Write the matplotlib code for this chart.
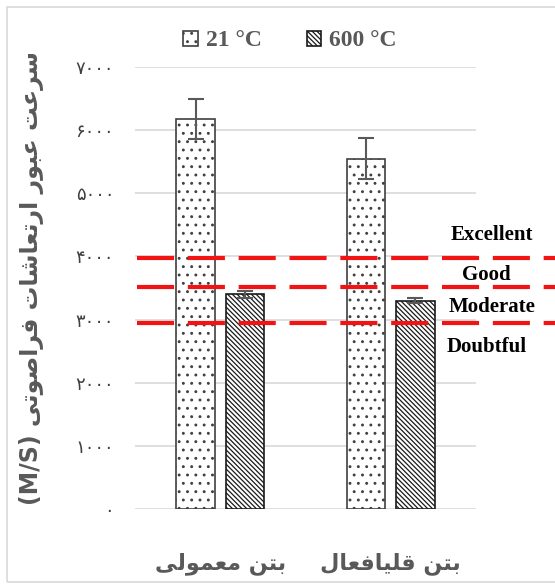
import numpy as np
import matplotlib.pyplot as plt
from matplotlib.patches import Rectangle
import matplotlib.transforms as mtransforms

# presentation-form base code and whether the letter joins on both sides
FORMS = {
    'ا': (0xFE8D, False), 'ب': (0xFE8F, True), 'ت': (0xFE95, True),
    'ر': (0xFEAD, False), 'س': (0xFEB1, True), 'ش': (0xFEB5, True),
    'ص': (0xFEB9, True), 'ع': (0xFEC9, True), 'ف': (0xFED1, True),
    'ق': (0xFED5, True), 'ل': (0xFEDD, True), 'م': (0xFEE1, True),
    'ن': (0xFEE5, True), 'و': (0xFEED, False), 'ی': (0xFBFC, True),
}


def shape(s):
    # pick contextual forms, then reverse into visual order
    out = []
    for i, ch in enumerate(s):
        if ch not in FORMS:
            out.append(ch)
            continue
        base, dual = FORMS[ch]
        prev = s[i-1] if i > 0 else ''
        nxt = s[i+1] if i + 1 < len(s) else ''
        jp = prev in FORMS and FORMS[prev][1]
        jn = dual and nxt in FORMS
        if jp and jn:
            out.append(chr(base + 3))
        elif jp:
            out.append(chr(base + 1))
        elif jn:
            out.append(chr(base + 2))
        else:
            out.append(chr(base))
    return ''.join(reversed(out))


def fa_digits(n):
    return ''.join(chr(0x06F0 + int(d)) for d in str(n))


categories = ['بتن معمولی', 'بتن قلیافعال']
series_names = ['21 °C', '600 °C']
v21 = [6180, 5550]
v600 = [3400, 3300]
err21 = [320, 330]
err600 = [60, 45]
thresholds = [3970, 3520, 2950]
quality = ['Excellent', 'Good', 'Moderate', 'Doubtful']
yticks = [0, 1000, 2000, 3000, 4000, 5000, 6000, 7000]
ylabel = 'سرعت عبور ارتعاشات فراصوتی'

gray = '#595959'
plt.rcParams['hatch.linewidth'] = 0.9

fig = plt.figure(figsize=(5.55, 5.84), dpi=100)
fig.patches.append(Rectangle((7/555, 2/584), 1.0, 575/584, transform=fig.transFigure,
                             fill=False, edgecolor='#d9d9d9', linewidth=1.2))
ax = fig.add_axes([135/555, 1-509/584, 341/555, 442/584])

x = np.arange(len(categories))
w = 0.225
off = 0.145
b1 = ax.bar(x - off, v21, w, color='white', edgecolor='#404040', linewidth=1.2,
            hatch='..', label=series_names[0], zorder=2)
b2 = ax.bar(x + off, v600, w, color='white', edgecolor='#1a1a1a', linewidth=1.2,
            hatch='\\\\\\\\\\\\\\', label=series_names[1], zorder=2)
ax.errorbar(x - off, v21, yerr=err21, fmt='none', ecolor=gray, elinewidth=1.5,
            capsize=6, capthick=1.5, zorder=3)
ax.errorbar(x + off, v600, yerr=err600, fmt='none', ecolor=gray, elinewidth=1.5,
            capsize=6, capthick=1.5, zorder=3)

# quality bands, running past the plot to the right edge
trans = mtransforms.blended_transform_factory(ax.transAxes, ax.transData)
for t in thresholds:
    ax.plot([0.005, 1.25], [t, t], color='#f21414', linewidth=3, transform=trans,
            dashes=(8.9, 3.3), clip_on=False, zorder=4)

qpos = [(492, 235), (486, 275), (492, 307), (487, 347)]
for q, (px, py) in zip(quality, qpos):
    fig.text(px/555, 1-py/584, q, ha='center', va='center', fontsize=15,
             fontweight='bold', family='Liberation Serif', color='black')

ax.set_xlim(-0.5, 1.5)
ax.set_ylim(0, 7000)
ax.set_yticks(yticks)
ax.set_yticklabels([fa_digits(v) for v in yticks], color='#404040', fontsize=13,
                   family='DejaVu Sans')
ax.yaxis.grid(True, color='#d9d9d9', linewidth=1.2, zorder=0)
ax.set_axisbelow(True)
ax.tick_params(axis='y', length=0, pad=15)
ax.tick_params(axis='x', length=0, pad=31)
ax.set_xticks(x)
ax.set_xticklabels([shape(c) for c in categories], fontsize=16, color=gray,
                   fontweight='bold', family='DejaVu Sans')
for s in ax.spines.values():
    s.set_visible(False)

fig.text(32/555, 1-278/584, '(M/S) ' + shape(ylabel), rotation=90, ha='center',
         va='center', fontsize=17, color=gray, fontweight='bold', family='DejaVu Sans')

leg = fig.legend(handles=[b1, b2], loc='center', bbox_to_anchor=(290/555, 1-41/584),
                 ncol=2, frameon=False, handlelength=0.6, handleheight=0.6,
                 handletextpad=0.35, columnspacing=1.9,
                 prop={'family': 'Liberation Serif', 'weight': 'bold', 'size': 17})
for t in leg.get_texts():
    t.set_color(gray)

plt.savefig('out.png', dpi=100)
